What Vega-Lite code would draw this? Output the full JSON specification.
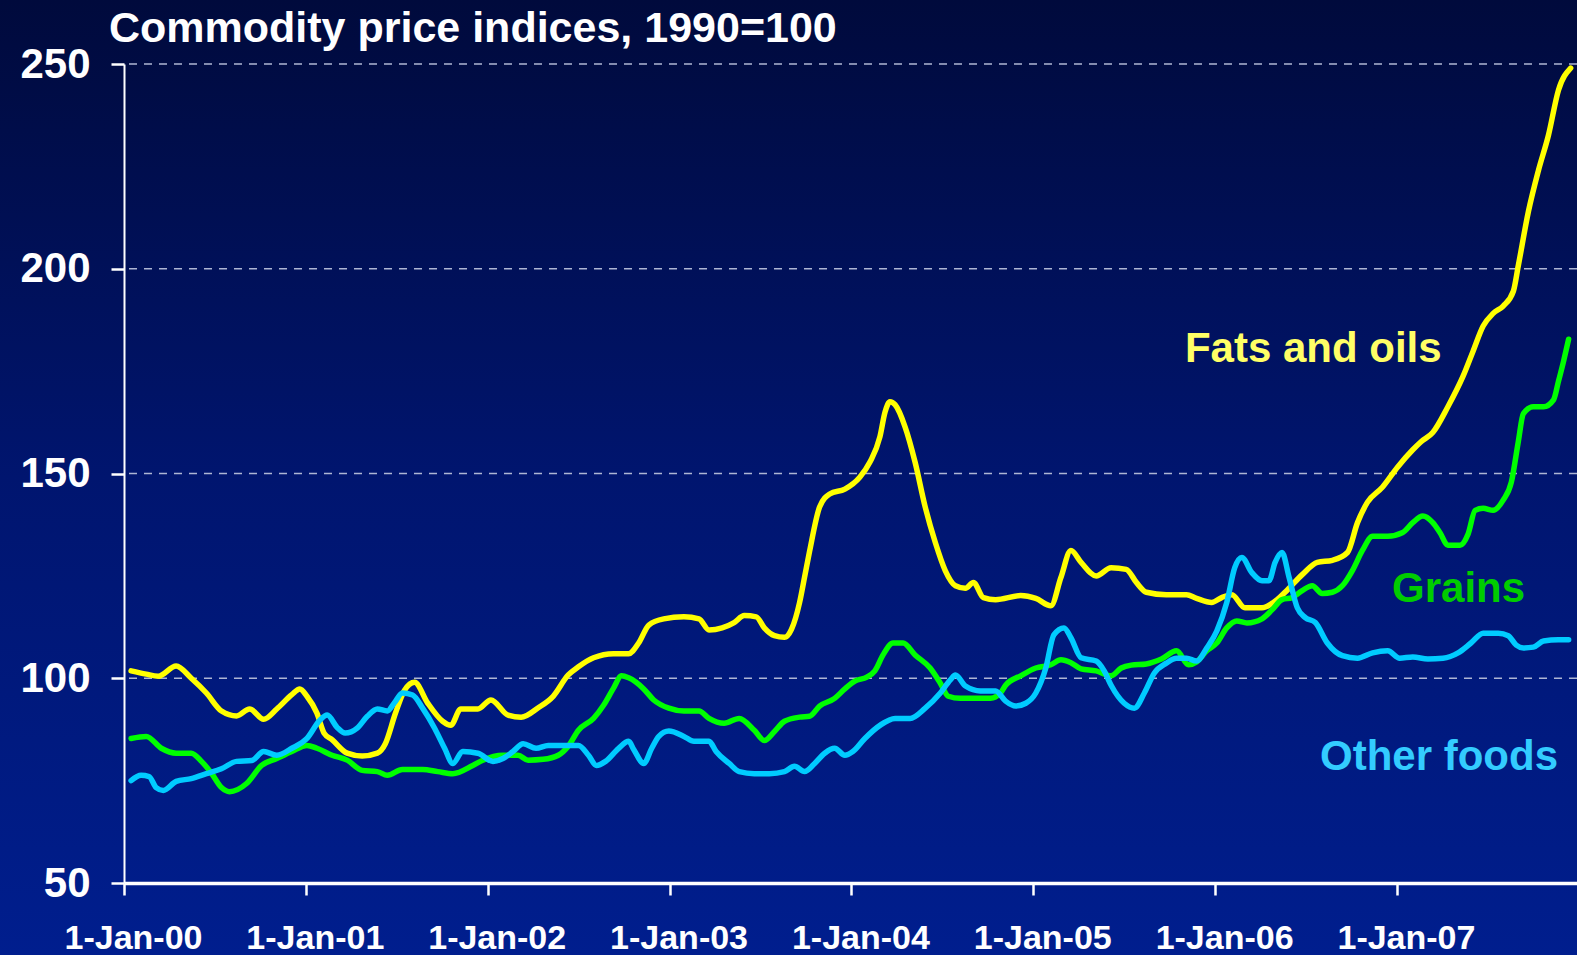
{
  "$schema": "https://vega.github.io/schema/vega-lite/v6.json",
  "width": 1453,
  "height": 819,
  "autosize": {"type": "none"},
  "padding": {"left": 124, "top": 64, "right": 0, "bottom": 72},
  "background": "#001A7A",
  "config": {"view": {"stroke": null}},
  "title": {
    "text": "Commodity price indices, 1990=100",
    "anchor": "start",
    "frame": "group",
    "font": "Liberation Sans",
    "fontWeight": "bold",
    "fontSize": 43,
    "color": "white",
    "baseline": "alphabetic",
    "offset": -85,
    "dx": -15
  },
  "datasets": {
    "grid": [{"g": 100}, {"g": 150}, {"g": 200}, {"g": 250}],
    "series": [
      {"s":"Fats and oils","t":2000.039,"v":101.8},
      {"s":"Fats and oils","t":2000.122,"v":101},
      {"s":"Fats and oils","t":2000.188,"v":100.5},
      {"s":"Fats and oils","t":2000.287,"v":103},
      {"s":"Fats and oils","t":2000.370,"v":100},
      {"s":"Fats and oils","t":2000.453,"v":96.4},
      {"s":"Fats and oils","t":2000.536,"v":92},
      {"s":"Fats and oils","t":2000.619,"v":90.8},
      {"s":"Fats and oils","t":2000.691,"v":92.5},
      {"s":"Fats and oils","t":2000.768,"v":90},
      {"s":"Fats and oils","t":2000.840,"v":92.5},
      {"s":"Fats and oils","t":2000.923,"v":96},
      {"s":"Fats and oils","t":2000.967,"v":97.4},
      {"s":"Fats and oils","t":2001.006,"v":95.6},
      {"s":"Fats and oils","t":2001.061,"v":91.5},
      {"s":"Fats and oils","t":2001.100,"v":86.6},
      {"s":"Fats and oils","t":2001.144,"v":85},
      {"s":"Fats and oils","t":2001.227,"v":81.7},
      {"s":"Fats and oils","t":2001.310,"v":81},
      {"s":"Fats and oils","t":2001.393,"v":81.7},
      {"s":"Fats and oils","t":2001.437,"v":84},
      {"s":"Fats and oils","t":2001.493,"v":91.5},
      {"s":"Fats and oils","t":2001.542,"v":97},
      {"s":"Fats and oils","t":2001.598,"v":99},
      {"s":"Fats and oils","t":2001.669,"v":94},
      {"s":"Fats and oils","t":2001.752,"v":89.5},
      {"s":"Fats and oils","t":2001.797,"v":88.5},
      {"s":"Fats and oils","t":2001.852,"v":92.5},
      {"s":"Fats and oils","t":2001.946,"v":92.5},
      {"s":"Fats and oils","t":2002.018,"v":94.7},
      {"s":"Fats and oils","t":2002.112,"v":91},
      {"s":"Fats and oils","t":2002.184,"v":90.5},
      {"s":"Fats and oils","t":2002.278,"v":92.8},
      {"s":"Fats and oils","t":2002.360,"v":95.6},
      {"s":"Fats and oils","t":2002.443,"v":100.8},
      {"s":"Fats and oils","t":2002.499,"v":102.8},
      {"s":"Fats and oils","t":2002.582,"v":105},
      {"s":"Fats and oils","t":2002.692,"v":106},
      {"s":"Fats and oils","t":2002.775,"v":106},
      {"s":"Fats and oils","t":2002.830,"v":108.6},
      {"s":"Fats and oils","t":2002.886,"v":113},
      {"s":"Fats and oils","t":2002.968,"v":114.5},
      {"s":"Fats and oils","t":2003.079,"v":115},
      {"s":"Fats and oils","t":2003.162,"v":114.5},
      {"s":"Fats and oils","t":2003.217,"v":111.8},
      {"s":"Fats and oils","t":2003.289,"v":112.3},
      {"s":"Fats and oils","t":2003.355,"v":113.6},
      {"s":"Fats and oils","t":2003.411,"v":115.3},
      {"s":"Fats and oils","t":2003.477,"v":115},
      {"s":"Fats and oils","t":2003.521,"v":112.3},
      {"s":"Fats and oils","t":2003.577,"v":110.4},
      {"s":"Fats and oils","t":2003.632,"v":110},
      {"s":"Fats and oils","t":2003.671,"v":112},
      {"s":"Fats and oils","t":2003.715,"v":118.5},
      {"s":"Fats and oils","t":2003.742,"v":124.6},
      {"s":"Fats and oils","t":2003.770,"v":131},
      {"s":"Fats and oils","t":2003.825,"v":141.8},
      {"s":"Fats and oils","t":2003.881,"v":145},
      {"s":"Fats and oils","t":2003.964,"v":146.2},
      {"s":"Fats and oils","t":2004.046,"v":149.1},
      {"s":"Fats and oils","t":2004.102,"v":152.8},
      {"s":"Fats and oils","t":2004.157,"v":159},
      {"s":"Fats and oils","t":2004.185,"v":165},
      {"s":"Fats and oils","t":2004.212,"v":167.5},
      {"s":"Fats and oils","t":2004.240,"v":166.8},
      {"s":"Fats and oils","t":2004.295,"v":161.4},
      {"s":"Fats and oils","t":2004.350,"v":152.8},
      {"s":"Fats and oils","t":2004.406,"v":141.8},
      {"s":"Fats and oils","t":2004.461,"v":133.2},
      {"s":"Fats and oils","t":2004.516,"v":126.3},
      {"s":"Fats and oils","t":2004.572,"v":122.6},
      {"s":"Fats and oils","t":2004.627,"v":122},
      {"s":"Fats and oils","t":2004.671,"v":123.4},
      {"s":"Fats and oils","t":2004.726,"v":119.7},
      {"s":"Fats and oils","t":2004.793,"v":119.2},
      {"s":"Fats and oils","t":2004.931,"v":120.2},
      {"s":"Fats and oils","t":2005.014,"v":119.5},
      {"s":"Fats and oils","t":2005.097,"v":117.7},
      {"s":"Fats and oils","t":2005.152,"v":124.6},
      {"s":"Fats and oils","t":2005.207,"v":131.2},
      {"s":"Fats and oils","t":2005.263,"v":128.3},
      {"s":"Fats and oils","t":2005.346,"v":125},
      {"s":"Fats and oils","t":2005.428,"v":127},
      {"s":"Fats and oils","t":2005.511,"v":126.6},
      {"s":"Fats and oils","t":2005.567,"v":123.4},
      {"s":"Fats and oils","t":2005.622,"v":121},
      {"s":"Fats and oils","t":2005.732,"v":120.4},
      {"s":"Fats and oils","t":2005.843,"v":120.4},
      {"s":"Fats and oils","t":2005.898,"v":119.5},
      {"s":"Fats and oils","t":2005.981,"v":118.5},
      {"s":"Fats and oils","t":2006.036,"v":119.7},
      {"s":"Fats and oils","t":2006.092,"v":120.4},
      {"s":"Fats and oils","t":2006.164,"v":117.2},
      {"s":"Fats and oils","t":2006.258,"v":117.2},
      {"s":"Fats and oils","t":2006.341,"v":119.2},
      {"s":"Fats and oils","t":2006.396,"v":121.5},
      {"s":"Fats and oils","t":2006.479,"v":125.3},
      {"s":"Fats and oils","t":2006.562,"v":128.3},
      {"s":"Fats and oils","t":2006.645,"v":128.8},
      {"s":"Fats and oils","t":2006.728,"v":130.7},
      {"s":"Fats and oils","t":2006.783,"v":138},
      {"s":"Fats and oils","t":2006.838,"v":143},
      {"s":"Fats and oils","t":2006.921,"v":146.7},
      {"s":"Fats and oils","t":2007.004,"v":151.6},
      {"s":"Fats and oils","t":2007.087,"v":155.8},
      {"s":"Fats and oils","t":2007.131,"v":157.7},
      {"s":"Fats and oils","t":2007.197,"v":160},
      {"s":"Fats and oils","t":2007.280,"v":166.3},
      {"s":"Fats and oils","t":2007.363,"v":173.7},
      {"s":"Fats and oils","t":2007.418,"v":179.8},
      {"s":"Fats and oils","t":2007.474,"v":186},
      {"s":"Fats and oils","t":2007.529,"v":189.1},
      {"s":"Fats and oils","t":2007.584,"v":190.9},
      {"s":"Fats and oils","t":2007.640,"v":194.5},
      {"s":"Fats and oils","t":2007.667,"v":200.7},
      {"s":"Fats and oils","t":2007.723,"v":214},
      {"s":"Fats and oils","t":2007.778,"v":224},
      {"s":"Fats and oils","t":2007.833,"v":232.6},
      {"s":"Fats and oils","t":2007.888,"v":243.6},
      {"s":"Fats and oils","t":2007.955,"v":249},

      {"s":"Grains","t":2000.039,"v":85.3},
      {"s":"Grains","t":2000.122,"v":85.8},
      {"s":"Grains","t":2000.205,"v":82.9},
      {"s":"Grains","t":2000.287,"v":81.7},
      {"s":"Grains","t":2000.370,"v":81.7},
      {"s":"Grains","t":2000.426,"v":79.7},
      {"s":"Grains","t":2000.481,"v":76.8},
      {"s":"Grains","t":2000.536,"v":73.3},
      {"s":"Grains","t":2000.580,"v":72.3},
      {"s":"Grains","t":2000.674,"v":74.3},
      {"s":"Grains","t":2000.757,"v":78.7},
      {"s":"Grains","t":2000.840,"v":80.4},
      {"s":"Grains","t":2000.923,"v":82.1},
      {"s":"Grains","t":2001.006,"v":83.6},
      {"s":"Grains","t":2001.061,"v":82.9},
      {"s":"Grains","t":2001.144,"v":81.2},
      {"s":"Grains","t":2001.227,"v":80},
      {"s":"Grains","t":2001.310,"v":77.5},
      {"s":"Grains","t":2001.393,"v":77.2},
      {"s":"Grains","t":2001.448,"v":76.3},
      {"s":"Grains","t":2001.531,"v":77.7},
      {"s":"Grains","t":2001.642,"v":77.7},
      {"s":"Grains","t":2001.725,"v":77.2},
      {"s":"Grains","t":2001.808,"v":76.7},
      {"s":"Grains","t":2001.918,"v":78.7},
      {"s":"Grains","t":2001.973,"v":80},
      {"s":"Grains","t":2002.084,"v":81.2},
      {"s":"Grains","t":2002.167,"v":81.2},
      {"s":"Grains","t":2002.222,"v":80},
      {"s":"Grains","t":2002.305,"v":80.2},
      {"s":"Grains","t":2002.388,"v":81.2},
      {"s":"Grains","t":2002.443,"v":83.4},
      {"s":"Grains","t":2002.499,"v":87.3},
      {"s":"Grains","t":2002.582,"v":90.2},
      {"s":"Grains","t":2002.637,"v":93.4},
      {"s":"Grains","t":2002.692,"v":97.6},
      {"s":"Grains","t":2002.736,"v":100.6},
      {"s":"Grains","t":2002.775,"v":100.1},
      {"s":"Grains","t":2002.858,"v":97.4},
      {"s":"Grains","t":2002.913,"v":94.7},
      {"s":"Grains","t":2002.996,"v":92.7},
      {"s":"Grains","t":2003.079,"v":92},
      {"s":"Grains","t":2003.162,"v":92},
      {"s":"Grains","t":2003.217,"v":90.2},
      {"s":"Grains","t":2003.300,"v":89},
      {"s":"Grains","t":2003.383,"v":90.2},
      {"s":"Grains","t":2003.466,"v":87.3},
      {"s":"Grains","t":2003.521,"v":84.8},
      {"s":"Grains","t":2003.577,"v":87},
      {"s":"Grains","t":2003.632,"v":89.5},
      {"s":"Grains","t":2003.715,"v":90.5},
      {"s":"Grains","t":2003.770,"v":90.7},
      {"s":"Grains","t":2003.825,"v":93.2},
      {"s":"Grains","t":2003.908,"v":95.1},
      {"s":"Grains","t":2003.964,"v":97.4},
      {"s":"Grains","t":2004.019,"v":99.3},
      {"s":"Grains","t":2004.085,"v":100.3},
      {"s":"Grains","t":2004.129,"v":101.8},
      {"s":"Grains","t":2004.174,"v":105.7},
      {"s":"Grains","t":2004.229,"v":108.6},
      {"s":"Grains","t":2004.284,"v":108.6},
      {"s":"Grains","t":2004.350,"v":105.7},
      {"s":"Grains","t":2004.433,"v":102.5},
      {"s":"Grains","t":2004.489,"v":98.8},
      {"s":"Grains","t":2004.533,"v":95.6},
      {"s":"Grains","t":2004.599,"v":95.1},
      {"s":"Grains","t":2004.682,"v":95.1},
      {"s":"Grains","t":2004.765,"v":95.1},
      {"s":"Grains","t":2004.820,"v":96.4},
      {"s":"Grains","t":2004.848,"v":98.3},
      {"s":"Grains","t":2004.931,"v":100.6},
      {"s":"Grains","t":2005.014,"v":102.5},
      {"s":"Grains","t":2005.097,"v":103.3},
      {"s":"Grains","t":2005.152,"v":104.5},
      {"s":"Grains","t":2005.207,"v":103.8},
      {"s":"Grains","t":2005.263,"v":102.3},
      {"s":"Grains","t":2005.346,"v":101.8},
      {"s":"Grains","t":2005.428,"v":100.6},
      {"s":"Grains","t":2005.484,"v":102.5},
      {"s":"Grains","t":2005.539,"v":103.2},
      {"s":"Grains","t":2005.622,"v":103.5},
      {"s":"Grains","t":2005.705,"v":104.7},
      {"s":"Grains","t":2005.788,"v":106.7},
      {"s":"Grains","t":2005.854,"v":103.3},
      {"s":"Grains","t":2005.898,"v":104},
      {"s":"Grains","t":2005.954,"v":106.7},
      {"s":"Grains","t":2006.009,"v":108.6},
      {"s":"Grains","t":2006.064,"v":112.3},
      {"s":"Grains","t":2006.119,"v":114},
      {"s":"Grains","t":2006.175,"v":113.5},
      {"s":"Grains","t":2006.258,"v":114.5},
      {"s":"Grains","t":2006.313,"v":116.7},
      {"s":"Grains","t":2006.368,"v":119.2},
      {"s":"Grains","t":2006.424,"v":119.7},
      {"s":"Grains","t":2006.479,"v":121.4},
      {"s":"Grains","t":2006.534,"v":122.6},
      {"s":"Grains","t":2006.589,"v":120.7},
      {"s":"Grains","t":2006.645,"v":121},
      {"s":"Grains","t":2006.700,"v":122.6},
      {"s":"Grains","t":2006.755,"v":126.3},
      {"s":"Grains","t":2006.810,"v":131.2},
      {"s":"Grains","t":2006.866,"v":134.7},
      {"s":"Grains","t":2006.949,"v":134.7},
      {"s":"Grains","t":2007.032,"v":135.6},
      {"s":"Grains","t":2007.087,"v":138},
      {"s":"Grains","t":2007.142,"v":139.6},
      {"s":"Grains","t":2007.197,"v":138},
      {"s":"Grains","t":2007.236,"v":135.6},
      {"s":"Grains","t":2007.280,"v":132.5},
      {"s":"Grains","t":2007.347,"v":132.5},
      {"s":"Grains","t":2007.391,"v":135.2},
      {"s":"Grains","t":2007.430,"v":141},
      {"s":"Grains","t":2007.474,"v":141.5},
      {"s":"Grains","t":2007.529,"v":141},
      {"s":"Grains","t":2007.584,"v":143.5},
      {"s":"Grains","t":2007.629,"v":147.9},
      {"s":"Grains","t":2007.667,"v":157.7},
      {"s":"Grains","t":2007.695,"v":164.6},
      {"s":"Grains","t":2007.750,"v":166.3},
      {"s":"Grains","t":2007.806,"v":166.3},
      {"s":"Grains","t":2007.861,"v":168},
      {"s":"Grains","t":2007.888,"v":172.5},
      {"s":"Grains","t":2007.916,"v":177.4},
      {"s":"Grains","t":2007.944,"v":182.8},

      {"s":"Other foods","t":2000.039,"v":75},
      {"s":"Other foods","t":2000.094,"v":76.3},
      {"s":"Other foods","t":2000.138,"v":76},
      {"s":"Other foods","t":2000.177,"v":73.3},
      {"s":"Other foods","t":2000.216,"v":72.6},
      {"s":"Other foods","t":2000.287,"v":74.8},
      {"s":"Other foods","t":2000.370,"v":75.5},
      {"s":"Other foods","t":2000.453,"v":76.7},
      {"s":"Other foods","t":2000.536,"v":77.9},
      {"s":"Other foods","t":2000.619,"v":79.7},
      {"s":"Other foods","t":2000.702,"v":79.9},
      {"s":"Other foods","t":2000.768,"v":82.1},
      {"s":"Other foods","t":2000.840,"v":81.2},
      {"s":"Other foods","t":2000.923,"v":82.9},
      {"s":"Other foods","t":2001.006,"v":85.3},
      {"s":"Other foods","t":2001.078,"v":89.8},
      {"s":"Other foods","t":2001.117,"v":91},
      {"s":"Other foods","t":2001.172,"v":88},
      {"s":"Other foods","t":2001.216,"v":86.6},
      {"s":"Other foods","t":2001.282,"v":87.8},
      {"s":"Other foods","t":2001.338,"v":90.7},
      {"s":"Other foods","t":2001.393,"v":92.5},
      {"s":"Other foods","t":2001.448,"v":92},
      {"s":"Other foods","t":2001.487,"v":94},
      {"s":"Other foods","t":2001.531,"v":96.4},
      {"s":"Other foods","t":2001.587,"v":95.9},
      {"s":"Other foods","t":2001.642,"v":92.7},
      {"s":"Other foods","t":2001.708,"v":87.8},
      {"s":"Other foods","t":2001.763,"v":82.9},
      {"s":"Other foods","t":2001.808,"v":79.2},
      {"s":"Other foods","t":2001.863,"v":82.1},
      {"s":"Other foods","t":2001.946,"v":81.7},
      {"s":"Other foods","t":2002.029,"v":79.7},
      {"s":"Other foods","t":2002.084,"v":80.4},
      {"s":"Other foods","t":2002.139,"v":82.1},
      {"s":"Other foods","t":2002.195,"v":84},
      {"s":"Other foods","t":2002.266,"v":82.9},
      {"s":"Other foods","t":2002.333,"v":83.6},
      {"s":"Other foods","t":2002.416,"v":83.6},
      {"s":"Other foods","t":2002.499,"v":83.6},
      {"s":"Other foods","t":2002.554,"v":81.2},
      {"s":"Other foods","t":2002.598,"v":78.7},
      {"s":"Other foods","t":2002.648,"v":79.7},
      {"s":"Other foods","t":2002.720,"v":82.9},
      {"s":"Other foods","t":2002.775,"v":84.6},
      {"s":"Other foods","t":2002.803,"v":82.6},
      {"s":"Other foods","t":2002.858,"v":79.2},
      {"s":"Other foods","t":2002.902,"v":82.9},
      {"s":"Other foods","t":2002.941,"v":85.8},
      {"s":"Other foods","t":2002.996,"v":87.1},
      {"s":"Other foods","t":2003.079,"v":85.8},
      {"s":"Other foods","t":2003.134,"v":84.6},
      {"s":"Other foods","t":2003.217,"v":84.6},
      {"s":"Other foods","t":2003.256,"v":82.1},
      {"s":"Other foods","t":2003.328,"v":79.2},
      {"s":"Other foods","t":2003.383,"v":77.2},
      {"s":"Other foods","t":2003.466,"v":76.7},
      {"s":"Other foods","t":2003.549,"v":76.7},
      {"s":"Other foods","t":2003.632,"v":77.2},
      {"s":"Other foods","t":2003.687,"v":78.5},
      {"s":"Other foods","t":2003.742,"v":77.2},
      {"s":"Other foods","t":2003.798,"v":79.2},
      {"s":"Other foods","t":2003.853,"v":81.7},
      {"s":"Other foods","t":2003.908,"v":82.9},
      {"s":"Other foods","t":2003.964,"v":81.2},
      {"s":"Other foods","t":2004.008,"v":82.1},
      {"s":"Other foods","t":2004.074,"v":85.3},
      {"s":"Other foods","t":2004.157,"v":88.5},
      {"s":"Other foods","t":2004.240,"v":90.2},
      {"s":"Other foods","t":2004.323,"v":90.2},
      {"s":"Other foods","t":2004.406,"v":92.7},
      {"s":"Other foods","t":2004.489,"v":96.4},
      {"s":"Other foods","t":2004.544,"v":99.6},
      {"s":"Other foods","t":2004.572,"v":100.8},
      {"s":"Other foods","t":2004.627,"v":98.1},
      {"s":"Other foods","t":2004.710,"v":96.9},
      {"s":"Other foods","t":2004.793,"v":96.9},
      {"s":"Other foods","t":2004.848,"v":94.4},
      {"s":"Other foods","t":2004.903,"v":93.2},
      {"s":"Other foods","t":2004.959,"v":93.9},
      {"s":"Other foods","t":2005.014,"v":96.4},
      {"s":"Other foods","t":2005.069,"v":102.5},
      {"s":"Other foods","t":2005.113,"v":110.6},
      {"s":"Other foods","t":2005.169,"v":112.3},
      {"s":"Other foods","t":2005.207,"v":109.9},
      {"s":"Other foods","t":2005.263,"v":105},
      {"s":"Other foods","t":2005.346,"v":104.2},
      {"s":"Other foods","t":2005.390,"v":101.8},
      {"s":"Other foods","t":2005.428,"v":98.3},
      {"s":"Other foods","t":2005.500,"v":93.9},
      {"s":"Other foods","t":2005.556,"v":92.7},
      {"s":"Other foods","t":2005.611,"v":96.4},
      {"s":"Other foods","t":2005.666,"v":101.3},
      {"s":"Other foods","t":2005.732,"v":103.7},
      {"s":"Other foods","t":2005.788,"v":104.9},
      {"s":"Other foods","t":2005.843,"v":104.9},
      {"s":"Other foods","t":2005.898,"v":104.2},
      {"s":"Other foods","t":2005.954,"v":107.4},
      {"s":"Other foods","t":2006.009,"v":111.5},
      {"s":"Other foods","t":2006.064,"v":118.5},
      {"s":"Other foods","t":2006.108,"v":127},
      {"s":"Other foods","t":2006.147,"v":129.5},
      {"s":"Other foods","t":2006.202,"v":125.8},
      {"s":"Other foods","t":2006.258,"v":123.8},
      {"s":"Other foods","t":2006.296,"v":123.8},
      {"s":"Other foods","t":2006.330,"v":128.3},
      {"s":"Other foods","t":2006.368,"v":130.7},
      {"s":"Other foods","t":2006.407,"v":124.6},
      {"s":"Other foods","t":2006.452,"v":117.2},
      {"s":"Other foods","t":2006.496,"v":114.8},
      {"s":"Other foods","t":2006.551,"v":113.6},
      {"s":"Other foods","t":2006.617,"v":108.6},
      {"s":"Other foods","t":2006.700,"v":105.5},
      {"s":"Other foods","t":2006.783,"v":104.9},
      {"s":"Other foods","t":2006.866,"v":106.2},
      {"s":"Other foods","t":2006.949,"v":106.7},
      {"s":"Other foods","t":2007.015,"v":104.9},
      {"s":"Other foods","t":2007.087,"v":105.2},
      {"s":"Other foods","t":2007.170,"v":104.7},
      {"s":"Other foods","t":2007.253,"v":104.9},
      {"s":"Other foods","t":2007.336,"v":106.2},
      {"s":"Other foods","t":2007.407,"v":108.6},
      {"s":"Other foods","t":2007.474,"v":111},
      {"s":"Other foods","t":2007.557,"v":111},
      {"s":"Other foods","t":2007.612,"v":110.4},
      {"s":"Other foods","t":2007.656,"v":108.1},
      {"s":"Other foods","t":2007.695,"v":107.4},
      {"s":"Other foods","t":2007.750,"v":107.6},
      {"s":"Other foods","t":2007.806,"v":109.1},
      {"s":"Other foods","t":2007.888,"v":109.4},
      {"s":"Other foods","t":2007.944,"v":109.4}
    ]
  },
  "layer": [
    {
      "data": {"values": [{}]},
      "mark": {
        "type": "rect",
        "fill": {
          "gradient": "linear", "x1": 0, "y1": 0, "x2": 0, "y2": 1,
          "stops": [
            {"offset": 0, "color": "#000A3C"},
            {"offset": 0.5, "color": "#00156F"},
            {"offset": 1, "color": "#001E8E"}
          ]
        }
      },
      "encoding": {
        "x": {"datum": 1999.3, "type": "quantitative", "title": null},
        "x2": {"datum": 2008.3},
        "y": {"datum": 265.7, "type": "quantitative", "title": null},
        "y2": {"datum": 32.3}
      }
    },
    {
      "data": {"name": "grid"},
      "mark": {"type": "rule", "stroke": "#AEB6D4", "strokeWidth": 1.5, "strokeDash": [8, 7]},
      "encoding": {
        "y": {"field": "g", "type": "quantitative", "title": null}
      }
    },
    {
      "data": {"name": "series"},
      "mark": {"type": "line", "strokeWidth": 5.5, "interpolate": "monotone", "strokeCap": "round", "strokeJoin": "round"},
      "encoding": {
        "x": {
          "field": "t", "type": "quantitative", "title": null,
          "scale": {"domain": [2000, 2007.99], "nice": false, "zero": false},
          "axis": {
            "values": [2000, 2001, 2002, 2003, 2004, 2005, 2006, 2007],
            "labelExpr": "'1-Jan-0' + (datum.value - 2000)",
            "grid": false,
            "domainColor": "white", "domainWidth": 3.5,
            "tickColor": "white", "tickSize": 12, "tickWidth": 2.5,
            "labelFont": "Liberation Sans",
            "labelFontWeight": "bold", "labelFontSize": 34, "labelColor": "white",
            "labelPadding": 26, "labelOffset": 9, "labelOverlap": false, "labelFlush": false,
            "zindex": 1
          }
        },
        "y": {
          "field": "v", "type": "quantitative", "title": null,
          "scale": {"domain": [50, 250], "nice": false, "zero": false},
          "axis": {
            "values": [50, 100, 150, 200, 250],
            "grid": false,
            "domainColor": "white", "domainWidth": 2,
            "tickColor": "white", "tickSize": 13, "tickWidth": 2.5,
            "labelFont": "Liberation Sans", "labelFontWeight": "bold",
            "labelFontSize": 42, "labelColor": "white", "labelPadding": 21,
            "zindex": 1
          }
        },
        "color": {
          "field": "s", "type": "nominal", "legend": null,
          "scale": {"domain": ["Fats and oils", "Grains", "Other foods"], "range": ["#FFFF00", "#00FF00", "#00CCFF"]}
        }
      }
    },
    {
      "data": {"values": [{}]},
      "mark": {"type": "text", "text": "Fats and oils", "font": "Liberation Sans", "fontWeight": "bold", "fontSize": 42, "color": "#FFFF66", "align": "left", "baseline": "alphabetic"},
      "encoding": {
        "x": {"datum": 2005.834, "type": "quantitative", "title": null},
        "y": {"datum": 177.2, "type": "quantitative", "title": null}
      }
    },
    {
      "data": {"values": [{}]},
      "mark": {"type": "text", "text": "Grains", "font": "Liberation Sans", "fontWeight": "bold", "fontSize": 42, "color": "#00CC00", "align": "left", "baseline": "alphabetic"},
      "encoding": {
        "x": {"datum": 2006.973, "type": "quantitative", "title": null},
        "y": {"datum": 118.6, "type": "quantitative", "title": null}
      }
    },
    {
      "data": {"values": [{}]},
      "mark": {"type": "text", "text": "Other foods", "font": "Liberation Sans", "fontWeight": "bold", "fontSize": 42, "color": "#33CCFF", "align": "left", "baseline": "alphabetic"},
      "encoding": {
        "x": {"datum": 2006.577, "type": "quantitative", "title": null},
        "y": {"datum": 77.7, "type": "quantitative", "title": null}
      }
    }
  ]
}
